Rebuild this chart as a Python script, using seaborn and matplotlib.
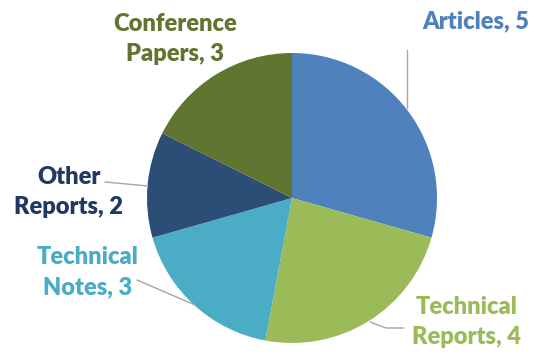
import matplotlib
matplotlib.use("Agg")
import matplotlib.pyplot as plt
import seaborn as sns

# publication counts by type (clockwise from 12 o'clock)
categories = ["Articles", "Technical\nReports", "Technical\nNotes", "Other\nReports", "Conference\nPapers"]
counts = [5, 4, 3, 2, 3]
slice_colors = ["#4F81BD", "#9BBB59", "#4BACC6", "#2C4D75", "#5F7530"]
text_colors = ["#4F81BD", "#9BBB59", "#4BACC6", "#1F3864", "#5F7530"]

sns.set_theme(style="white")
plt.rcParams["font.family"] = ["Lato", "DejaVu Sans"]

W, H = 539, 354
cx, cy, R = 292, 198, 145  # pie centre / radius in pixels


def px(x, y):
    # pixel (from top-left) -> data units where pie radius == 1
    return ((x - cx) / R, (cy - y) / R)


fig = plt.figure(figsize=(W / 100, H / 100), dpi=100)
ax = fig.add_axes([0, 0, 1, 1])
ax.pie(counts, colors=slice_colors, startangle=90, counterclock=False,
       radius=1, wedgeprops=dict(linewidth=0))
ax.set_xlim(-cx / R, (W - cx) / R)
ax.set_ylim(-(H - cy) / R, cy / R)
ax.set_aspect("equal")
ax.axis("off")

# label text centres and leader lines (pixels)
label_pos = [(476, 21), (467, 322), (88, 272), (69, 192), (175, 39)]
leaders = [
    [(407, 50), (407, 108)],
    [(370, 322), (386, 328), (404, 328)],
    [(137, 280), (195, 305)],
    [(105, 182), (148, 186)],
    None,
]

for cat, n, col, pos, ln in zip(categories, counts, text_colors, label_pos, leaders):
    x, y = px(*pos)
    ax.text(x, y, f"{cat}, {n}", color=col, fontsize=17, fontweight="heavy",
            ha="center", va="center", linespacing=1.45)
    if ln:
        xs = [px(*p)[0] for p in ln]
        ys = [px(*p)[1] for p in ln]
        ax.plot(xs, ys, color="#A6A6A6", lw=1)

fig.savefig("out.png", dpi=100)
